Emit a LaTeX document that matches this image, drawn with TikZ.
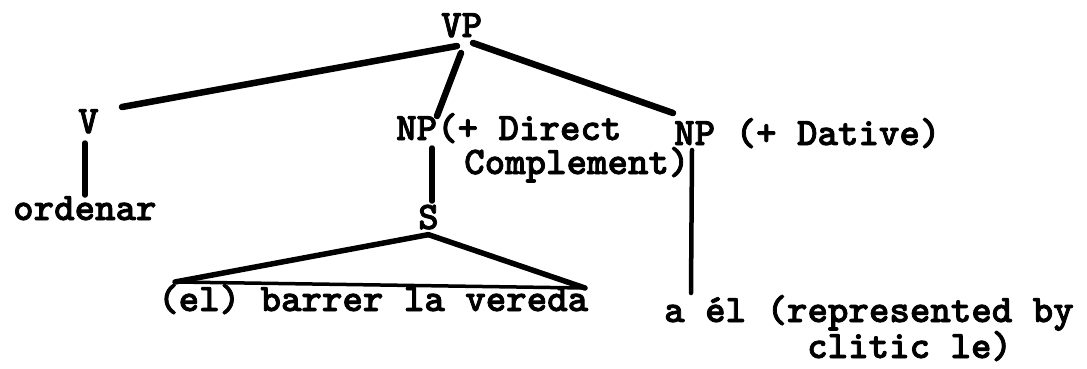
\documentclass[tikz,border=0pt]{standalone}
\usepackage{fontspec}
\newfontfamily\typed[Extension=.otf, FakeBold=2]{lmmonolt10-bold}
\usetikzlibrary{positioning}
\tikzstyle{word}=[anchor=base west, inner sep=0pt,
  font=\fontsize{39}{44}\selectfont\typed]
\tikzstyle{branch}=[line width=6.5pt, line cap=round]

\begin{document}
\begin{tikzpicture}[x=1pt, y=1pt]
    \useasboundingbox (0,0) rectangle (1087,-368);
    \node[word] (vp) at (441,-37) {VP};
    \node[word] (v) at (78,-133) {V};
    \node[word] (ordenar) at (13,-220) {ordenar};
    \node[word] (npdir) at (396,-140) {NP(+ Direct};
    \node[word] (compl) at ([shift={(68,-34)}]npdir.base west) {Complement)};
    \node[word] (npdat) at (674,-145) {NP (+ Dative)};
    \node[word] (s) at (418,-229) {S};
    \node[word] (el) at (158,-311) {(el) barrer la vereda};
    \node[word] (ael) at (664,-322) {a él (represented by};
    \node[word] (clitic) at ([shift={(143,-36)}]ael.base west) {clitic le)};
    % branches from VP
    \draw[branch] ([shift={(16,-9)}]vp.base west) -- ([shift={(44,26)}]v.base west);
    \draw[branch] ([shift={(20,-16)}]vp.base west) -- ([shift={(41,24)}]npdir.base west);
    \draw[branch] ([shift={(32,-6)}]vp.base west) -- ([shift={(-1,32)}]npdat.base west);
    % single daughters
    \draw[branch, line width=5.5pt] ([shift={(7,-10)}]v.base west) -- ([shift={(72,25)}]ordenar.base west);
    \draw[branch, line width=5.5pt] ([shift={(36,-8)}]npdir.base west) -- ([shift={(14,28)}]s.base west);
    \draw[branch, line width=4.5pt] ([shift={(18,-5)}]npdat.base west) -- ([shift={(27,29)}]ael.base west);
    % triangle over S
    \draw[branch, line width=5.5pt] ([yshift=-5]s.south) -- ([shift={(17,29)}]el.base west);
    \draw[branch, line width=5.5pt] ([yshift=-5]s.south) -- ([shift={(427,23)}]el.base west);
    \draw[line width=3.5pt, line cap=round] ([shift={(19,29)}]el.base west) -- ([shift={(427,23)}]el.base west);
\end{tikzpicture}
\end{document}
